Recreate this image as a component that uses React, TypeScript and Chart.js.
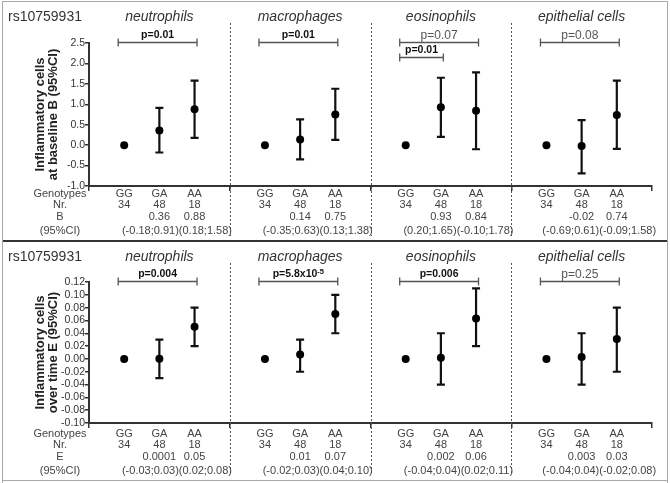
import React, { useEffect, useRef } from 'react';
import { Chart, registerables } from 'chart.js';

Chart.register(...registerables);

const FONT = '"Liberation Sans", Arial, Helvetica, sans-serif';

const snpName = 'rs10759931';
const cellTypes = ['neutrophils', 'macrophages', 'eosinophils', 'epithelial cells'];
const genotypes = ['GG', 'GA', 'AA'];
const genotypeCounts = [34, 48, 18];

// Panel 1: inflammatory cells at baseline (B)
const baselineB = [[0, 0.36, 0.88], [0, 0.14, 0.75], [0, 0.93, 0.84], [0, -0.02, 0.74]];
const baselineLow = [[null, -0.18, 0.18], [null, -0.35, 0.13], [null, 0.2, -0.1], [null, -0.69, -0.09]];
const baselineHigh = [[null, 0.91, 1.58], [null, 0.63, 1.38], [null, 1.65, 1.78], [null, 0.61, 1.58]];
const baselineLabels = [['', '0.36', '0.88'], ['', '0.14', '0.75'], ['', '0.93', '0.84'], ['', '-0.02', '0.74']];
const baselineTicks = { min: -1.0, max: 2.5, step: 0.5, decimals: 1 };
const baselinePValues = [
  { group: 0, from: 0, to: 2, text: 'p=0.01', sup: '', bold: true, level: 2.5 },
  { group: 1, from: 0, to: 2, text: 'p=0.01', sup: '', bold: true, level: 2.5 },
  { group: 2, from: 0, to: 2, text: 'p=0.07', sup: '', bold: false, level: 2.5 },
  { group: 2, from: 0, to: 1, text: 'p=0.01', sup: '', bold: true, level: 2.13 },
  { group: 3, from: 0, to: 2, text: 'p=0.08', sup: '', bold: false, level: 2.5 },
];

// Panel 2: inflammatory cells over time (E)
const overTimeE = [[0, 0.0001, 0.05], [0, 0.007, 0.07], [0, 0.002, 0.063], [0, 0.003, 0.031]];
const overTimeLow = [[null, -0.03, 0.02], [null, -0.02, 0.04], [null, -0.04, 0.02], [null, -0.04, -0.02]];
const overTimeHigh = [[null, 0.03, 0.08], [null, 0.03, 0.1], [null, 0.04, 0.11], [null, 0.04, 0.08]];
const overTimeLabels = [['', '0.0001', '0.05'], ['', '0.01', '0.07'], ['', '0.002', '0.06'], ['', '0.003', '0.03']];
const overTimeTicks = { min: -0.1, max: 0.12, step: 0.02, decimals: 2 };
const overTimePValues = [
  { group: 0, from: 0, to: 2, text: 'p=0.004', sup: '', bold: true, level: 0.12 },
  { group: 1, from: 0, to: 2, text: 'p=5.8x10', sup: '-5', bold: true, level: 0.12 },
  { group: 2, from: 0, to: 2, text: 'p=0.006', sup: '', bold: true, level: 0.12 },
  { group: 3, from: 0, to: 2, text: 'p=0.25', sup: '', bold: false, level: 0.12 },
];

type PanelProps = {
  top: number;
  height: number;
  padTop: number;
  xHeight: number;
  isFirst: boolean;
  values: number[][];
  low: (number | null)[][];
  high: (number | null)[][];
  valueLabels: string[][];
  ticks: { min: number; max: number; step: number; decimals: number };
  pValues: { group: number; from: number; to: number; text: string; sup: string; bold: boolean; level: number }[];
  yTitle: string[];
  rowLetter: string;
};

function Panel(props: PanelProps) {
  const ref = useRef<HTMLCanvasElement | null>(null);

  useEffect(() => {
    const canvas = ref.current;
    if (!canvas) return;
    const { values, low, high, valueLabels, ticks, pValues, yTitle, rowLetter, xHeight, padTop, isFirst, height } = props;
    const pos = (g: number, i: number) => g * 4 + i + 1;

    const overlay = {
      id: 'overlay',
      beforeDatasetsDraw(chart: any) {
        const ctx = chart.ctx;
        const xs = chart.scales.x;
        const ys = chart.scales.y;
        ctx.save();
        ctx.strokeStyle = '#111';
        ctx.lineWidth = 2.2;
        cellTypes.forEach((_, g) => {
          genotypes.forEach((__, i) => {
            const lo = low[g][i];
            const hi = high[g][i];
            if (lo === null || hi === null) return;
            const x = xs.getPixelForValue(pos(g, i));
            const yl = ys.getPixelForValue(lo);
            const yh = ys.getPixelForValue(hi);
            ctx.beginPath();
            ctx.moveTo(x, yl);
            ctx.lineTo(x, yh);
            ctx.moveTo(x - 4, yl);
            ctx.lineTo(x + 4, yl);
            ctx.moveTo(x - 4, yh);
            ctx.lineTo(x + 4, yh);
            ctx.stroke();
          });
        });
        ctx.restore();
      },
      afterDraw(chart: any) {
        const ctx = chart.ctx;
        const xs = chart.scales.x;
        const ys = chart.scales.y;
        ctx.save();

        // frame
        ctx.fillStyle = '#a8a8a8';
        ctx.fillRect(2, isFirst ? 1 : 0, 1, height);
        ctx.fillRect(667, isFirst ? 1 : 0, 1, height);
        if (isFirst) {
          ctx.fillRect(2, 1, 666, 1);
        } else {
          ctx.fillRect(2, 240, 666, 1);
          ctx.fillStyle = '#333';
          ctx.fillRect(3, 0, 664, 2);
        }

        // dotted group separators
        ctx.strokeStyle = '#555';
        ctx.lineWidth = 1;
        ctx.setLineDash([2, 2]);
        [4, 8, 12].forEach((v) => {
          const x = Math.round(xs.getPixelForValue(v)) + 0.5;
          ctx.beginPath();
          ctx.moveTo(x, 23);
          ctx.lineTo(x, isFirst ? 236 : 234);
          ctx.stroke();
        });
        ctx.setLineDash([]);

        // titles
        ctx.fillStyle = '#333';
        ctx.textBaseline = 'middle';
        ctx.textAlign = 'left';
        ctx.font = `14px ${FONT}`;
        ctx.fillText(snpName, 8, 17);
        ctx.textAlign = 'center';
        ctx.font = `italic 14px ${FONT}`;
        cellTypes.forEach((name, g) => {
          ctx.fillText(name, xs.getPixelForValue(pos(g, 1)), 17);
        });

        // p-value brackets
        pValues.forEach((p) => {
          const xl = xs.getPixelForValue(pos(p.group, p.from) - 0.17);
          const xr = xs.getPixelForValue(pos(p.group, p.to) + 0.07);
          const y = Math.round(ys.getPixelForValue(p.level)) - 0.5;
          ctx.strokeStyle = '#555';
          ctx.lineWidth = 1.3;
          ctx.beginPath();
          ctx.moveTo(xl, y);
          ctx.lineTo(xr, y);
          ctx.moveTo(xl, y - 4);
          ctx.lineTo(xl, y + 4);
          ctx.moveTo(xr, y - 4);
          ctx.lineTo(xr, y + 4);
          ctx.stroke();
          const mainFont = p.bold ? `bold 10.5px ${FONT}` : `12px ${FONT}`;
          const supFont = p.bold ? `bold 7.5px ${FONT}` : `8px ${FONT}`;
          ctx.font = mainFont;
          const w1 = ctx.measureText(p.text).width;
          ctx.font = supFont;
          const w2 = p.sup ? ctx.measureText(p.sup).width : 0;
          const cx = (xl + xr) / 2;
          const start = cx - (w1 + w2) / 2;
          ctx.textAlign = 'left';
          ctx.fillStyle = p.bold ? '#111' : '#555';
          ctx.font = mainFont;
          ctx.fillText(p.text, start, y - 7);
          if (p.sup) {
            ctx.font = supFont;
            ctx.fillText(p.sup, start + w1, y - 10);
          }
        });

        // table below the axis
        const rowsY = [194, 204.5, 217, 230.5];
        const rowLabels = ['Genotypes', 'Nr.', rowLetter, '(95%CI)'];
        ctx.fillStyle = '#444';
        ctx.font = `11px ${FONT}`;
        ctx.textAlign = 'center';
        rowLabels.forEach((t, r) => ctx.fillText(t, 60, rowsY[r]));
        cellTypes.forEach((_, g) => {
          genotypes.forEach((gt, i) => {
            const x = xs.getPixelForValue(pos(g, i));
            ctx.fillText(gt, x, rowsY[0]);
            ctx.fillText(String(genotypeCounts[i]), x, rowsY[1]);
            if (valueLabels[g][i]) ctx.fillText(valueLabels[g][i], x, rowsY[2]);
          });
          const ci = [1, 2]
            .map((i) => `(${(low[g][i] as number).toFixed(2)};${(high[g][i] as number).toFixed(2)})`)
            .join('');
          ctx.fillText(ci, xs.getPixelForValue(pos(g, 1.5)), rowsY[3]);
        });
        ctx.restore();
      },
    };

    const datasets = cellTypes.map((name, g) => ({
      label: name,
      data: genotypes.map((_, i) => ({ x: pos(g, i), y: values[g][i] })),
      showLine: false,
      pointRadius: 4,
      pointHoverRadius: 4,
      pointBackgroundColor: '#000',
      pointBorderWidth: 0,
      borderColor: '#000',
    }));

    const chart = new Chart(canvas, {
      type: 'scatter',
      data: { datasets },
      plugins: [overlay],
      options: {
        animation: false,
        responsive: false,
        devicePixelRatio: 1,
        layout: { padding: { top: padTop, right: 18, left: 0, bottom: 0 } },
        plugins: { legend: { display: false }, tooltip: { enabled: false } },
        scales: {
          x: {
            type: 'linear',
            min: 0,
            max: 16,
            ticks: { stepSize: 4, display: false },
            grid: { drawOnChartArea: false, drawTicks: true, tickLength: 5, color: '#333', lineWidth: 1.5 },
            border: { color: '#333', width: 2 },
            afterFit: (s: any) => {
              s.height = xHeight;
            },
          },
          y: {
            type: 'linear',
            min: ticks.min,
            max: ticks.max,
            ticks: {
              stepSize: ticks.step,
              autoSkip: false,
              color: '#333',
              padding: 0,
              font: { family: FONT, size: 10.5 },
              callback: (v: any) => Number(v).toFixed(ticks.decimals),
            },
            grid: { drawOnChartArea: false, drawTicks: true, tickLength: 4, color: '#333', lineWidth: 1.5 },
            border: { color: '#333', width: 2 },
            title: {
              display: true,
              text: yTitle,
              color: '#222',
              font: { family: FONT, size: 13, weight: 'bold', lineHeight: '13px' },
              padding: { top: 34, bottom: 0 },
            },
            afterFit: (s: any) => {
              s.width = 89;
            },
          },
        },
      } as any,
    });
    return () => chart.destroy();
  }, []);

  return (
    <canvas
      ref={ref}
      width={670}
      height={props.height}
      style={{ position: 'absolute', left: 0, top: props.top, width: 670, height: props.height, display: 'block' }}
    />
  );
}

export default function App() {
  return (
    <div style={{ position: 'absolute', left: 0, top: 0, width: 670, height: 483, background: '#fff', overflow: 'hidden' }}>
      <Panel
        top={0}
        height={240}
        padTop={43}
        xHeight={54}
        isFirst={true}
        values={baselineB}
        low={baselineLow}
        high={baselineHigh}
        valueLabels={baselineLabels}
        ticks={baselineTicks}
        pValues={baselinePValues}
        yTitle={['Inflammatory cells', 'at baseline B (95%CI)']}
        rowLetter="B"
      />
      <Panel
        top={240}
        height={243}
        padTop={42}
        xHeight={60}
        isFirst={false}
        values={overTimeE}
        low={overTimeLow}
        high={overTimeHigh}
        valueLabels={overTimeLabels}
        ticks={overTimeTicks}
        pValues={overTimePValues}
        yTitle={['Inflammatory cells', 'over time E (95%CI)']}
        rowLetter="E"
      />
    </div>
  );
}
